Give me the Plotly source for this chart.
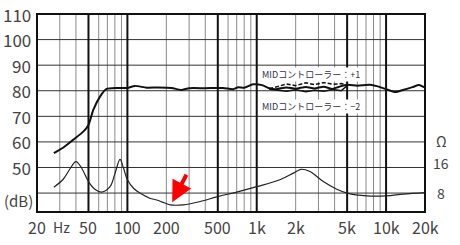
import math
import plotly.graph_objects as go

# SPL (dB) main response
spl_f = [27, 32, 38, 45.6, 50, 54.5, 61.4, 69, 82.7, 100, 114, 141, 173, 220, 260, 300, 400, 550, 656, 720, 800, 936, 1100, 1250, 1400, 1700, 2000, 2400, 2800, 3300, 3800, 4300, 5000, 6000, 7500, 9000, 10000, 11800, 13500, 16000, 18000, 20000]
spl_db = [55.6, 57.8, 60.8, 64.0, 66.6, 72.5, 77.7, 80.7, 81.1, 81.1, 81.9, 81.2, 81.3, 81.1, 80.3, 81.0, 81.0, 81.1, 80.6, 81.4, 81.2, 82.5, 82.2, 81.0, 80.6, 81.3, 80.8, 81.5, 80.9, 81.6, 80.7, 81.5, 82.3, 82.0, 82.3, 81.4, 80.6, 79.5, 80.3, 81.4, 82.2, 81.2]

# MID controller +1 / -2 variants (only differ in mid band)
plus_f = [1250, 1450, 1700, 2000, 2400, 2800, 3300, 3900, 4500, 5000]
plus_db = [80.8, 81.8, 82.6, 82.0, 83.1, 82.4, 83.2, 82.5, 82.8, 82.3]
minus_f = [1250, 1450, 1700, 2000, 2400, 2800, 3300, 3900, 4500, 5000]
minus_db = [80.6, 80.1, 79.8, 80.4, 79.6, 80.2, 79.8, 80.5, 80.0, 82.0]

# Impedance curve (plotted on dB-equivalent scale)
imp_f = [27, 32, 36, 40, 44, 50, 56, 63.3, 73.4, 80, 87.7, 93, 100, 112, 125, 149, 168.6, 190, 214, 271, 365, 500, 700, 1000, 1510, 1920, 2200, 2580, 3270, 4160, 5000, 7100, 10000, 13600, 20000]
imp_db = [42.3, 45.5, 49.5, 52.3, 50.0, 44.5, 41.5, 40.4, 42.5, 47.5, 53.2, 50.0, 45.2, 41.8, 40.0, 38.0, 37.3, 36.3, 35.4, 35.4, 36.7, 38.6, 40.4, 42.5, 45.2, 47.8, 49.3, 48.4, 44.5, 41.5, 40.0, 38.9, 38.9, 39.6, 40.2]

x_labels = ["20", "50", "100", "200", "500", "1k", "2k", "5k", "10k", "20k"]
x_label_vals = [20, 50, 100, 200, 500, 1000, 2000, 5000, 10000, 20000]
y_labels = ["110", "100", "90", "80", "70", "60", "50"]
y_label_vals = [110, 100, 90, 80, 70, 60, 50]
thick_grid = [50, 100, 500, 1000, 5000, 10000]
thin_grid = [30, 40, 60, 70, 80, 90, 200, 300, 400, 600, 700, 800, 900,
             2000, 3000, 4000, 6000, 7000, 8000, 9000]
h_grid = [40, 50, 60, 70, 80, 90, 100]

XMIN, XMAX = 20, 20000
YMIN, YMAX = 32.6, 110
txt = "#444444"
FONT = "Noto Sans CJK JP"
L = math.log10


def xpaper(v):
    return (L(v) - L(XMIN)) / (L(XMAX) - L(XMIN))


fig = go.Figure()
fig.add_trace(go.Scatter(x=imp_f, y=imp_db, mode="lines", line=dict(color="#222", width=1.2, shape="spline"), hoverinfo="skip"))
fig.add_trace(go.Scatter(x=spl_f, y=spl_db, mode="lines", line=dict(color="#111", width=2, shape="spline", smoothing=0.6), hoverinfo="skip"))
fig.add_trace(go.Scatter(x=plus_f, y=plus_db, mode="lines", line=dict(color="#111", width=1.5, dash="4px,2px"), hoverinfo="skip"))
fig.add_trace(go.Scatter(x=minus_f, y=minus_db, mode="lines", line=dict(color="#111", width=1.5), hoverinfo="skip"))

shapes = []
for v in thin_grid:
    shapes.append(dict(type="line", xref="x", yref="paper", x0=v, x1=v, y0=0, y1=1, line=dict(color="#8a8a8a", width=1), layer="below"))
for v in h_grid:
    shapes.append(dict(type="line", xref="paper", yref="y", x0=0, x1=1, y0=v, y1=v, line=dict(color="#333", width=1), layer="below"))
for v in thick_grid:
    shapes.append(dict(type="line", xref="x", yref="paper", x0=v, x1=v, y0=0, y1=1, line=dict(color="#111", width=2), layer="below"))
shapes.append(dict(type="rect", xref="paper", yref="paper", x0=0, x1=1, y0=0, y1=1, line=dict(color="#111", width=2)))

annotations = []
for lab, v in zip(x_labels, x_label_vals):
    annotations.append(dict(x=xpaper(v), xref="paper", y=-0.075, yref="paper", text=lab, showarrow=False, xanchor="center", yanchor="middle", font=dict(family=FONT, size=16, color=txt)))
annotations.append(dict(x=xpaper(25.8), xref="paper", y=-0.075, yref="paper", text="Hz", showarrow=False, xanchor="left", yanchor="middle", font=dict(family=FONT, size=14, color=txt)))
for lab, v in zip(y_labels, y_label_vals):
    annotations.append(dict(x=-0.01, xref="paper", y=v, yref="y", text=lab, showarrow=False, xanchor="right", yanchor="middle", font=dict(family=FONT, size=17, color=txt)))
annotations.append(dict(x=-0.005, xref="paper", y=(212 - 200) / 198, yref="paper", text="(dB)", showarrow=False, xanchor="right", yanchor="middle", font=dict(family=FONT, size=15, color=txt)))
for lab, py in [("Ω", 141.0), ("16", 163.0), ("8", 193.3)]:
    annotations.append(dict(x=1.042, xref="paper", y=(212 - py) / 198, yref="paper", text=lab, showarrow=False, xanchor="center", yanchor="middle", font=dict(family=FONT, size=14, color=txt)))
for lab, yv in [("MIDコントローラー：+1", 86.5), ("MIDコントローラー：−2", 74.0)]:
    annotations.append(dict(x=L(2640), xref="x", y=yv, yref="y", text=lab, showarrow=False, xanchor="center", bgcolor="white", borderpad=0, font=dict(family=FONT, size=9, color="#333344")))
annotations.append(dict(x=L(222), xref="x", y=36.4, yref="y", ax=15, ay=-29, showarrow=True, arrowhead=2, arrowsize=1.05, arrowwidth=4, arrowcolor="#ff0000", text=""))

fig.update_layout(
    width=460, height=245,
    margin=dict(l=37, r=35, t=14, b=33),
    paper_bgcolor="white", plot_bgcolor="white",
    showlegend=False,
    xaxis=dict(type="log", range=[L(XMIN), L(XMAX)], showgrid=False, showticklabels=False, zeroline=False, ticks=""),
    yaxis=dict(range=[YMIN, YMAX], showgrid=False, showticklabels=False, zeroline=False, ticks=""),
    shapes=shapes, annotations=annotations,
)
fig.write_html("out.html")
